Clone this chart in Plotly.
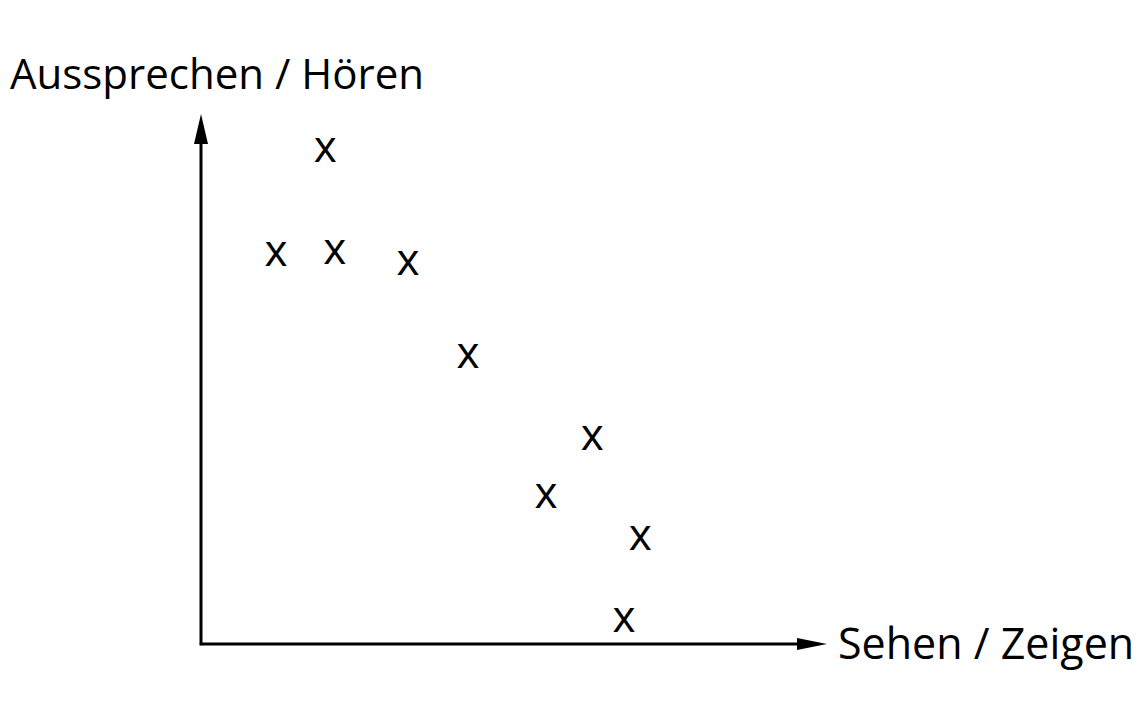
import plotly.graph_objects as go

# data (arbitrary units, origin at axis crossing)
sehen_zeigen = [2.07, 1.25, 2.23, 3.45, 4.45, 6.52, 5.75, 7.32, 7.05]
aussprechen_hoeren = [8.22, 6.48, 6.52, 6.33, 4.78, 3.42, 2.45, 1.75, 0.38]
x_label = "Sehen / Zeigen"
y_label = "Aussprechen / Hören"

W, H = 1148, 720
PX = 60.0  # pixels per unit
ox, oy = 201, 644  # origin pixel
xr = [-ox / PX, (W - ox) / PX]
yr = [-(H - oy) / PX, oy / PX]

FONT = "Open Sans"

fig = go.Figure()
fig.add_trace(go.Scatter(
    x=sehen_zeigen, y=aussprechen_hoeren, mode="text", text=["x"] * len(sehen_zeigen),
    textposition="middle center", textfont=dict(family=FONT, size=44, color="black"),
    hoverinfo="skip", showlegend=False,
))

lw = 3
x_tip = (827 - ox) / PX
y_tip = (oy - 114) / PX
head_len = 30 / PX
head_hw = 7 / PX

shapes = [
    dict(type="line", x0=-0.02, y0=0, x1=x_tip - head_len + 0.05, y1=0, xref="x", yref="y",
         line=dict(color="black", width=lw)),
    dict(type="line", x0=0, y0=-0.02, x1=0, y1=y_tip - head_len + 0.05, xref="x", yref="y",
         line=dict(color="black", width=lw)),
    dict(type="path", xref="x", yref="y", fillcolor="black", line=dict(width=0),
         path=f"M {x_tip} 0 L {x_tip - head_len} {head_hw*0.85} L {x_tip - head_len} {-head_hw*0.85} Z"),
    dict(type="path", xref="x", yref="y", fillcolor="black", line=dict(width=0),
         path=f"M 0 {y_tip} L {head_hw} {y_tip - head_len} L {-head_hw} {y_tip - head_len} Z"),
]

annotations = [
    dict(x=(8 - ox) / PX, y=(oy - 72) / PX, xref="x", yref="y", text=y_label, showarrow=False,
         xanchor="left", yanchor="middle", font=dict(family=FONT, size=42, color="black")),
    dict(x=(836 - ox) / PX, y=(oy - 642) / PX, xref="x", yref="y", text=x_label, showarrow=False,
         xanchor="left", yanchor="middle", font=dict(family=FONT, size=43, color="black")),
]

fig.update_layout(
    width=W, height=H, margin=dict(l=0, r=0, t=0, b=0),
    paper_bgcolor="white", plot_bgcolor="white",
    xaxis=dict(range=xr, visible=False, fixedrange=True),
    yaxis=dict(range=yr, visible=False, fixedrange=True),
    shapes=shapes, annotations=annotations,
)
fig.write_html("out.html")
